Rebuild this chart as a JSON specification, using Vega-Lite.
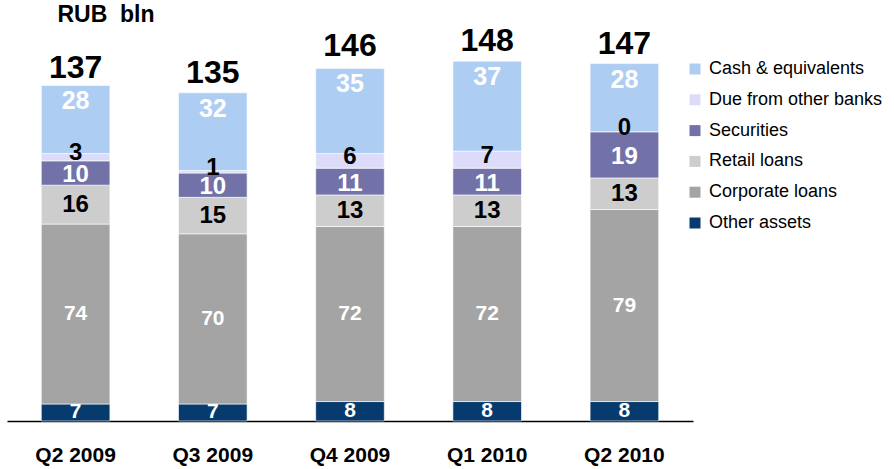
{
  "$schema": "https://vega.github.io/schema/vega-lite/v6.json",
  "width": 686,
  "height": 389,
  "autosize": {"type": "none"},
  "padding": {"left": 7, "top": 32, "right": 201, "bottom": 48},
  "background": "white",
  "config": {"view": {"stroke": null}, "font": "Liberation Sans"},
  "title": {"text": "RUB\u00a0\u00a0bln", "anchor": "middle", "align": "center", "frame": "group", "fontSize": 23, "fontWeight": "bold", "color": "#000000", "offset": 2, "dy": 4, "dx": -244},
  "datasets": {
    "assets": [
      {"quarter": "Q2 2009", "category": "Other assets", "amount": 7},
      {"quarter": "Q2 2009", "category": "Corporate loans", "amount": 74},
      {"quarter": "Q2 2009", "category": "Retail loans", "amount": 16},
      {"quarter": "Q2 2009", "category": "Securities", "amount": 10},
      {"quarter": "Q2 2009", "category": "Due from other banks", "amount": 3},
      {"quarter": "Q2 2009", "category": "Cash & equivalents", "amount": 28},
      {"quarter": "Q3 2009", "category": "Other assets", "amount": 7},
      {"quarter": "Q3 2009", "category": "Corporate loans", "amount": 70},
      {"quarter": "Q3 2009", "category": "Retail loans", "amount": 15},
      {"quarter": "Q3 2009", "category": "Securities", "amount": 10},
      {"quarter": "Q3 2009", "category": "Due from other banks", "amount": 1},
      {"quarter": "Q3 2009", "category": "Cash & equivalents", "amount": 32},
      {"quarter": "Q4 2009", "category": "Other assets", "amount": 8},
      {"quarter": "Q4 2009", "category": "Corporate loans", "amount": 72},
      {"quarter": "Q4 2009", "category": "Retail loans", "amount": 13},
      {"quarter": "Q4 2009", "category": "Securities", "amount": 11},
      {"quarter": "Q4 2009", "category": "Due from other banks", "amount": 6},
      {"quarter": "Q4 2009", "category": "Cash & equivalents", "amount": 35},
      {"quarter": "Q1 2010", "category": "Other assets", "amount": 8},
      {"quarter": "Q1 2010", "category": "Corporate loans", "amount": 72},
      {"quarter": "Q1 2010", "category": "Retail loans", "amount": 13},
      {"quarter": "Q1 2010", "category": "Securities", "amount": 11},
      {"quarter": "Q1 2010", "category": "Due from other banks", "amount": 7},
      {"quarter": "Q1 2010", "category": "Cash & equivalents", "amount": 37},
      {"quarter": "Q2 2010", "category": "Other assets", "amount": 8},
      {"quarter": "Q2 2010", "category": "Corporate loans", "amount": 79},
      {"quarter": "Q2 2010", "category": "Retail loans", "amount": 13},
      {"quarter": "Q2 2010", "category": "Securities", "amount": 19},
      {"quarter": "Q2 2010", "category": "Due from other banks", "amount": 0},
      {"quarter": "Q2 2010", "category": "Cash & equivalents", "amount": 28}
    ],
    "totals": [
      {"quarter": "Q2 2009", "total": 137},
      {"quarter": "Q3 2009", "total": 135},
      {"quarter": "Q4 2009", "total": 146},
      {"quarter": "Q1 2010", "total": 148},
      {"quarter": "Q2 2010", "total": 147}
    ],
    "cats": [
      {"category": "Other assets", "rank": 1},
      {"category": "Corporate loans", "rank": 2},
      {"category": "Retail loans", "rank": 3},
      {"category": "Securities", "rank": 4},
      {"category": "Due from other banks", "rank": 5},
      {"category": "Cash & equivalents", "rank": 6}
    ]
  },
  "encoding": {
    "x": {
      "field": "quarter", "type": "nominal",
      "sort": ["Q2 2009", "Q3 2009", "Q4 2009", "Q1 2010", "Q2 2010"],
      "scale": {"paddingInner": 0.5, "paddingOuter": 0.25},
      "axis": {"title": null, "labelAngle": 0, "labelFontSize": 21, "labelFontWeight": "bold", "labelColor": "#000000", "ticks": false, "domainColor": "#000000", "domainWidth": 1.5, "labelPadding": 23}
    }
  },
  "layer": [
    {
      "data": {"name": "assets"},
      "transform": [
        {"lookup": "category", "from": {"data": {"name": "cats"}, "key": "category", "fields": ["rank"]}},
        {"stack": "amount", "groupby": ["quarter"], "sort": [{"field": "rank", "order": "ascending"}], "as": ["lo", "hi"]}
      ],
      "layer": [
        {
          "mark": {"type": "bar", "stroke": "#ffffff", "strokeWidth": 0.6},
          "encoding": {
            "y": {"field": "lo", "type": "quantitative", "scale": {"domain": [0, 160]}, "axis": null},
            "y2": {"field": "hi"},
            "color": {
              "field": "category", "type": "nominal",
              "scale": {
                "domain": ["Cash & equivalents", "Due from other banks", "Securities", "Retail loans", "Corporate loans", "Other assets"],
                "range": ["#AECDF3", "#DCDCFA", "#7272A8", "#CDCDCD", "#A4A4A4", "#073B6E"]
              },
              "legend": {
                "title": null, "orient": "none", "legendX": 679, "legendY": 28,
                "symbolType": "square", "symbolSize": 121, "symbolStrokeWidth": 0,
                "labelFontSize": 18, "labelColor": "#000000", "labelOffset": 5, "labelLimit": 400,
                "rowPadding": 12.8, "padding": 0
              }
            }
          }
        },
        {
          "transform": [{"filter": "datum.category == 'Cash & equivalents'"}],
          "mark": {"type": "text", "baseline": "top", "dy": 4, "fontSize": 25, "fontWeight": "bold", "color": "#ffffff"},
          "encoding": {
            "y": {"field": "hi", "type": "quantitative"},
            "text": {"field": "amount", "type": "quantitative"}
          }
        },
        {
          "transform": [
            {"filter": "datum.category == 'Due from other banks'"},
            {"fold": ["lo", "hi"], "as": ["k", "v"]},
            {"aggregate": [{"op": "mean", "field": "v", "as": "mid"}], "groupby": ["quarter", "category", "amount"]}
          ],
          "mark": {"type": "text", "baseline": "middle", "dy": -4, "fontSize": 24, "fontWeight": "bold", "color": "#000000"},
          "encoding": {
            "y": {"field": "mid", "type": "quantitative"},
            "text": {"field": "amount", "type": "quantitative"}
          }
        },
        {
          "transform": [
            {"filter": "datum.category == 'Securities'"},
            {"fold": ["lo", "hi"], "as": ["k", "v"]},
            {"aggregate": [{"op": "mean", "field": "v", "as": "mid"}], "groupby": ["quarter", "category", "amount"]}
          ],
          "mark": {"type": "text", "baseline": "middle", "dy": 2, "fontSize": 24, "fontWeight": "bold", "color": "#ffffff"},
          "encoding": {
            "y": {"field": "mid", "type": "quantitative"},
            "text": {"field": "amount", "type": "quantitative"}
          }
        },
        {
          "transform": [
            {"filter": "datum.category == 'Retail loans' || datum.category == 'Corporate loans' || datum.category == 'Other assets'"},
            {"fold": ["lo", "hi"], "as": ["k", "v"]},
            {"aggregate": [{"op": "mean", "field": "v", "as": "mid"}], "groupby": ["quarter", "category", "amount"]}
          ],
          "mark": {"type": "text", "baseline": "middle", "fontWeight": "bold"},
          "encoding": {
            "y": {"field": "mid", "type": "quantitative"},
            "text": {"field": "amount", "type": "quantitative"},
            "color": {"condition": {"test": "datum.category == 'Retail loans'", "value": "#000000"}, "value": "#ffffff"},
            "size": {"condition": {"test": "datum.category == 'Retail loans'", "value": 24}, "value": 21}
          }
        }
      ]
    },
    {
      "data": {"name": "totals"},
      "mark": {"type": "text", "baseline": "alphabetic", "dy": -10, "fontSize": 32, "fontWeight": "bold", "color": "#000000"},
      "encoding": {
        "y": {"field": "total", "type": "quantitative"},
        "text": {"field": "total", "type": "quantitative"}
      }
    }
  ]
}
